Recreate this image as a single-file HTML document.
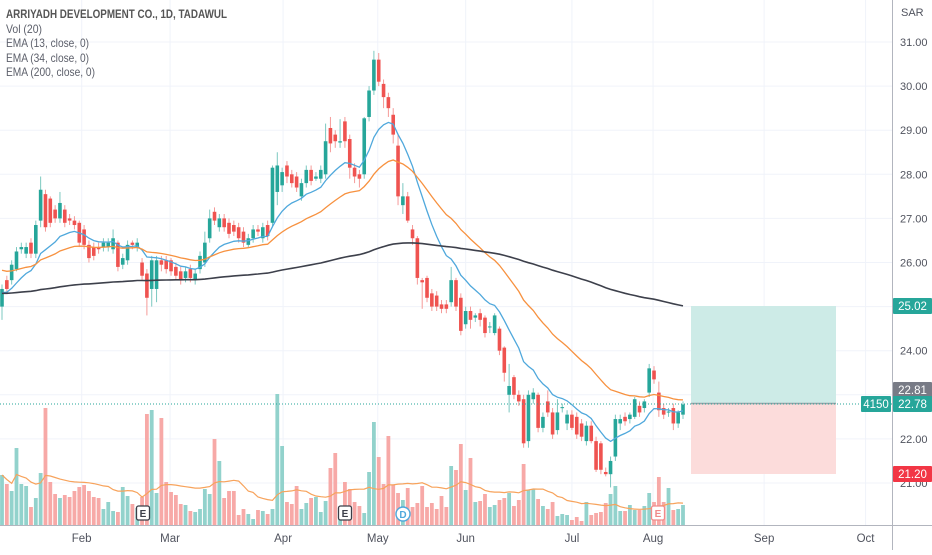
<!DOCTYPE html>
<html><head><meta charset="utf-8">
<style>
html,body{margin:0;padding:0;background:#fff;}
body{width:932px;height:550px;overflow:hidden;font-family:"Liberation Sans",sans-serif;}
svg text{font-family:"Liberation Sans",sans-serif;}
</style></head>
<body>
<svg id="chart" width="932" height="550" viewBox="0 0 932 550" xmlns="http://www.w3.org/2000/svg">
  <g id="grid"></g>
  <g id="posbox">
    <rect x="691" y="306" width="145" height="98" fill="#cdebe7"/>
    <rect x="691" y="404" width="145" height="70" fill="#fcdcdb"/>
    <line x1="691" y1="403.5" x2="836" y2="403.5" stroke="#9aa3a8" stroke-width="1.5"/>
  </g>
  <g id="volume"></g>
  <g id="candles"></g>
  <g id="lines"></g>
  <line x1="0" y1="404" x2="892" y2="404" stroke="#26a69a" stroke-width="1" stroke-dasharray="1,2"/>
  <g id="axes"></g>
  <g font-size="12" fill="#5d606b">
    <text x="6" y="18" font-weight="bold" fill="#555" font-size="11.5" textLength="221" lengthAdjust="spacingAndGlyphs">ARRIYADH DEVELOPMENT CO., 1D, TADAWUL</text>
    <text x="6" y="33" textLength="36" lengthAdjust="spacingAndGlyphs">Vol (20)</text>
    <text x="6" y="47" textLength="83" lengthAdjust="spacingAndGlyphs">EMA (13, close, 0)</text>
    <text x="6" y="62" textLength="83" lengthAdjust="spacingAndGlyphs">EMA (34, close, 0)</text>
    <text x="6" y="76" textLength="89" lengthAdjust="spacingAndGlyphs">EMA (200, close, 0)</text>
  </g>
  <g id="markers"></g>
  <g id="labels"></g>
</svg>
<script>
const O=[25.0,25.6,25.6,25.85,26.3,26.2,26.45,26.2,26.95,27.55,
27.45,27.2,27.0,27.2,27.0,26.95,26.9,26.75,26.4,26.35,
26.35,26.35,26.35,26.3,26.45,25.95,26.05,26.45,26.35,26.0,
25.75,25.4,25.4,26.05,26.05,26.05,25.9,25.8,25.65,25.85,
25.6,25.85,26.0,26.55,27.15,26.8,27.0,26.9,26.85,26.8,
26.7,26.4,26.55,26.75,26.55,26.85,26.9,27.6,27.75,28.2,
28.0,27.95,27.5,27.8,28.1,27.9,27.9,28.0,29.05,28.9,
28.72,29.2,28.8,28.15,28.0,28.0,29.3,29.9,30.6,30.05,
29.75,29.35,28.65,27.3,27.5,26.75,26.55,25.6,25.65,25.3,
25.25,25.05,25.05,25.1,25.6,25.2,24.6,24.9,24.75,24.85,
24.75,24.55,24.4,24.5,24.07,23.0,23.4,23.0,22.9,21.95,
22.9,23.0,22.25,22.85,22.6,22.2,22.7,22.35,22.55,22.5,
22.35,21.95,22.3,21.95,21.9,21.25,21.2,21.6,22.35,22.5,
22.45,22.5,22.75,22.7,23.05,23.55,23.05,22.7,22.6,22.7,
22.35,22.55];
const C=[25.4,25.4,25.95,26.25,26.35,26.35,26.2,26.85,27.65,26.8,
26.9,27.0,27.35,26.9,26.95,26.85,26.45,26.4,26.1,26.15,
26.3,26.45,26.45,26.55,25.9,26.1,26.4,26.4,26.45,25.7,
25.2,26.05,26.05,25.95,25.85,25.8,25.7,25.6,25.8,25.65,
25.75,26.15,26.45,27.0,26.95,27.0,26.8,26.65,26.7,26.55,
26.45,26.55,26.75,26.7,26.8,26.6,28.15,28.2,28.05,27.95,
27.8,27.7,27.8,28.1,27.85,27.95,28.1,28.75,28.7,28.75,
28.75,28.75,28.15,27.95,27.9,29.27,29.9,30.6,30.1,29.75,
29.5,28.9,27.5,27.5,26.95,26.55,25.65,25.55,25.2,25.0,
25.0,24.95,24.95,25.6,25.0,24.45,24.9,24.7,24.8,24.7,
24.4,24.55,24.8,24.0,23.5,23.2,23.0,22.85,21.9,23.0,
23.05,22.25,22.5,22.6,22.1,22.6,22.72,22.55,22.25,22.1,
22.05,22.3,21.95,21.3,21.3,21.2,21.5,22.45,22.45,22.4,
22.55,22.9,22.6,22.85,23.6,23.35,22.65,22.55,22.62,22.35,
22.6,22.78];
const H=[25.5,25.7,26.05,26.35,26.45,26.45,26.55,26.95,27.95,27.65,
27.5,27.3,27.6,27.3,27.1,27.05,26.95,26.85,26.5,26.45,
26.45,26.55,26.55,26.75,26.5,26.2,26.5,26.5,26.55,26.1,
25.85,26.15,26.15,26.15,26.15,26.1,26.0,25.9,25.9,25.95,
25.85,26.25,26.7,27.2,27.25,27.1,27.1,27.0,26.95,26.9,
26.8,26.65,26.85,26.85,26.9,26.95,28.2,28.5,28.15,28.3,
28.1,28.05,27.9,28.2,28.2,28.05,28.2,29.15,29.3,29.0,
29.25,29.3,28.9,28.25,28.1,29.3,30.0,30.8,30.75,30.15,
29.85,29.5,28.9,27.8,27.6,26.85,26.6,25.65,25.7,25.4,
25.35,25.15,25.15,25.9,25.65,25.3,25.0,25.0,24.85,24.95,
24.8,24.65,24.85,24.55,24.1,23.7,23.45,23.1,23.0,23.1,
23.15,23.05,22.6,23.1,22.7,22.9,22.8,22.65,22.65,22.6,
22.45,22.4,22.4,22.05,21.95,21.35,21.6,22.55,22.55,22.6,
22.6,22.95,22.85,22.9,23.7,23.65,23.3,22.8,22.7,22.8,
22.65,22.85];
const L=[24.7,25.3,25.5,25.8,26.2,26.1,26.1,26.1,26.8,26.7,
26.8,26.9,26.9,26.8,26.85,26.75,26.35,26.3,26.0,26.05,
26.2,26.25,26.25,26.2,25.8,25.85,25.95,26.3,26.25,25.6,
24.8,25.0,25.1,25.8,25.75,25.7,25.6,25.5,25.55,25.55,
25.5,25.75,25.9,26.45,26.85,26.7,26.7,26.55,26.6,26.45,
26.35,26.35,26.45,26.6,26.45,26.5,26.8,27.3,27.6,27.8,
27.7,27.6,27.4,27.7,27.75,27.85,27.8,27.9,28.5,28.6,
28.6,28.6,27.9,27.8,27.7,27.9,29.2,29.8,30.0,29.5,
29.3,28.7,27.3,27.1,26.9,26.4,25.5,24.95,25.1,24.9,
24.9,24.85,24.85,25.0,24.9,24.35,24.5,24.5,24.65,24.55,
24.3,24.4,24.35,23.9,23.3,22.6,22.9,22.75,21.8,21.8,
22.8,22.15,22.15,22.5,22.0,22.1,22.6,22.2,22.2,22.0,
21.95,21.85,21.9,21.25,21.2,21.15,20.9,21.5,22.2,22.3,
22.35,22.45,22.5,22.6,22.95,23.25,22.5,22.45,22.5,22.2,
22.25,22.45];
const VOL=[50,41,34,77,41,39,18,27,52,117,
43,31,27,30,28,34,38,40,34,28,
27,16,23,14,13,38,29,21,17,28,
111,115,32,107,43,33,30,21,20,14,
13,16,36,31,86,64,27,34,34,10,
16,11,6,15,14,11,16,131,79,23,
21,39,16,22,27,28,13,24,57,72,
16,43,36,23,19,12,53,103,68,41,
89,40,32,25,37,18,22,39,18,22,
16,29,18,59,55,81,35,67,23,24,
31,18,20,25,27,32,19,25,61,35,
36,26,19,16,23,9,11,10,5,8,
4,23,10,12,13,22,31,39,14,14,
20,15,15,19,32,23,48,23,37,15,
16,20];
const priceTicks=[31,30,29,28,27,26,25,24,23,22,21];
const monthLabels=["Feb","Mar","Apr","May","Jun","Jul","Aug","Sep","Oct"];
const monthBarIdx=[16.5,34.8,58.2,77.8,96,118,134.8,157.8,178.8];
const emaPeriods=[13,34,200];
const emaSeeds=[25.3,25.85,25.3];

const NS="http://www.w3.org/2000/svg";
const N=C.length;
function xOf(i){return 2+i*(681/(N-1));}
function yOf(p){return 42+(31-p)*44.1;}
function vY(v){return 525-v;}
function mk(tag,attrs,parent){const e=document.createElementNS(NS,tag);for(const k in attrs)e.setAttribute(k,attrs[k]);parent.appendChild(e);return e;}
const G=id=>document.getElementById(id);
const UP="#26a69a",DN="#ef5350";

const grid=G('grid');
priceTicks.forEach(p=>{const l=mk('line',{x1:0,x2:892,y1:yOf(p),y2:yOf(p),stroke:'#f0f3fa','stroke-width':1},grid);

});
monthBarIdx.forEach(b=>{const x=xOf(b);const l=mk('line',{x1:x,x2:x,y1:0,y2:525,stroke:'#f0f3fa','stroke-width':1},grid);

});

const vg=G('volume');
for(let i=0;i<N;i++){const up=C[i]>=O[i];
 const r=mk('rect',{x:xOf(i)-1.9,y:vY(VOL[i]),width:3.8,height:VOL[i],fill:up?'#92d2cc':'#f7a9a7'},vg);
 
 }
let vpts=[];
for(let i=0;i<N;i++){let s=0,n=0;for(let j=Math.max(0,i-19);j<=i;j++){s+=VOL[j];n++;}vpts.push(xOf(i).toFixed(1)+','+vY(s/n).toFixed(1));}
const vma=mk('polyline',{points:vpts.join(' '),fill:'none',stroke:'#f7a35c','stroke-width':1.2},vg);



const cg=G('candles');
for(let i=0;i<N;i++){const up=C[i]>=O[i];const col=up?UP:DN;const x=xOf(i);
 const w=mk('line',{x1:x,x2:x,y1:yOf(H[i]),y2:yOf(L[i]),stroke:up?'#7cc8c0':'#f59a98','stroke-width':1},cg);
 
 
 const t=yOf(Math.max(O[i],C[i])),b=yOf(Math.min(O[i],C[i]));
 const r=mk('rect',{x:x-1.8,y:t,width:3.6,height:Math.max(1,b-t),fill:col},cg);
 
 }

const lg=G('lines');const emaCols=['#4fa8dc','#f7913f','#3d404b'];const emaNames=['ema13-line','ema34-line','ema200-line'];
emaPeriods.forEach((p,k)=>{const a=2/(p+1);let e=emaSeeds[k];const pts=[];
 for(let i=0;i<N;i++){e=e+a*(C[i]-e);pts.push(xOf(i).toFixed(1)+','+yOf(e).toFixed(1));}
 const pl=mk('polyline',{points:pts.join(' '),fill:'none',stroke:emaCols[k],'stroke-width':k==2?1.6:1.3},lg);
 
 });

const ax=G('axes');
mk('line',{x1:892.5,x2:892.5,y1:0,y2:550,stroke:'#b2b5be','stroke-width':1},ax);
mk('line',{x1:0,x2:932,y1:525.5,y2:525.5,stroke:'#b2b5be','stroke-width':1},ax);
priceTicks.forEach(p=>{const t=mk('text',{x:900,y:yOf(p)+4,'font-size':11,fill:'#50535e'},ax);t.textContent=p.toFixed(2);
 
 });
const sar=mk('text',{x:901,y:16,'font-size':11,fill:'#50535e'},ax);sar.textContent='SAR';


monthLabels.forEach((m,k)=>{const t=mk('text',{x:xOf(monthBarIdx[k]),y:542,'font-size':11.5,fill:'#50535e','text-anchor':'middle'},ax);t.textContent=m;
 
 });

const mg=G('markers');
function eMark(x,col,name){const g=mk('g',{},mg);
 mk('rect',{x:x-6.5,y:506,width:13,height:14,rx:2,fill:'#fff',stroke:col,'stroke-width':1.3},g);
 const t=mk('text',{x:x,y:517,'font-size':10,'font-weight':'bold','text-anchor':'middle',fill:col},g);t.textContent='E';}
eMark(143,'#3b3e48','earnings-marker');eMark(345,'#3b3e48','earnings-marker');eMark(658,'#f08a8a','earnings-marker');
const dg=mk('g',{},mg);
mk('circle',{cx:403,cy:514,r:7,fill:'#fff',stroke:'#4fa8dc','stroke-width':1.4},dg);
const dt=mk('text',{x:403,y:518,'font-size':10,'font-weight':'bold','text-anchor':'middle',fill:'#4fa8dc'},dg);dt.textContent='D';

const lb=G('labels');
function tag(x,y,w,txt,bg,name){const g=mk('g',{},lb);
 mk('rect',{x:x,y:y-8,width:w,height:16,fill:bg,rx:1},g);
 const t=mk('text',{x:x+w/2,y:y+4,'font-size':11.5,'text-anchor':'middle',fill:'#fff'},g);t.textContent=txt;}
tag(893,306,39,'25.02',UP,'target-price-label');
tag(893,390,39,'22.81','#787b86','ema-price-label');
tag(893,404,39,'22.78',UP,'last-price-label');
tag(861,404,30,'4150',UP,'volume-value-label');
tag(893,474,39,'21.20','#f23645','stop-price-label');
</script>
</body></html>
